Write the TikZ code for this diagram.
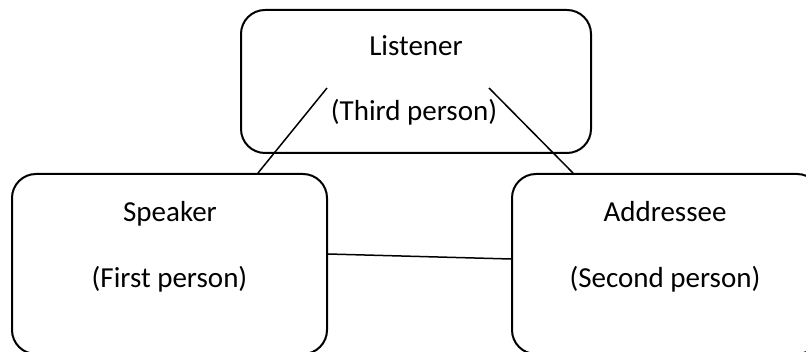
\documentclass[tikz,border=0pt]{standalone}
\usepackage{fontspec}
\setmainfont{Carlito}
\usepackage{tikz}
\usetikzlibrary{calc}
\usetikzlibrary{shapes}
\tikzset{
    party/.style={draw, line width=2pt, rounded corners=24pt, inner sep=0pt},
    role/.style={anchor=base, inner sep=0pt, font=\fontsize{29}{34}\selectfont},
    link/.style={line width=1.5pt}
}

\begin{document}
\begin{tikzpicture}[x=1pt, y=-1pt]
        \useasboundingbox (0,0) rectangle (806,352);
        \clip (0,0) rectangle (806,352);
        % boxes
        \node[party, minimum width=350pt, minimum height=143pt] (listener) at (416,81.5) {};
        \node[party, minimum width=315pt, minimum height=180pt] (speaker) at (169.5,264) {};
        \node[party, minimum width=309pt, minimum height=180pt] (addressee) at (666.5,264) {};
        % texts
        \node[role] (listenername) at (416,56) {Listener};
        \node[role] (listenerperson) at (414,121) {(Third person)};
        \node[role] (speakername) at (170,221.7) {Speaker};
        \node[role] (speakerperson) at (169.5,288) {(First person)};
        \node[role] (addresseename) at (665,221.7) {Addressee};
        \node[role] (addresseeperson) at (665,288) {(Second person)};
        % lines
        \draw[link] ([xshift=-89pt, yshift=-6.5pt]listener.center) -- ([xshift=88.5pt]speaker.north);
        \draw[link] ([xshift=73pt, yshift=-6.5pt]listener.center) -- ([xshift=-93.5pt]addressee.north);
        \draw[link] ([yshift=10pt]speaker.east) -- ([yshift=5pt]addressee.west);
    \end{tikzpicture}
\end{document}
